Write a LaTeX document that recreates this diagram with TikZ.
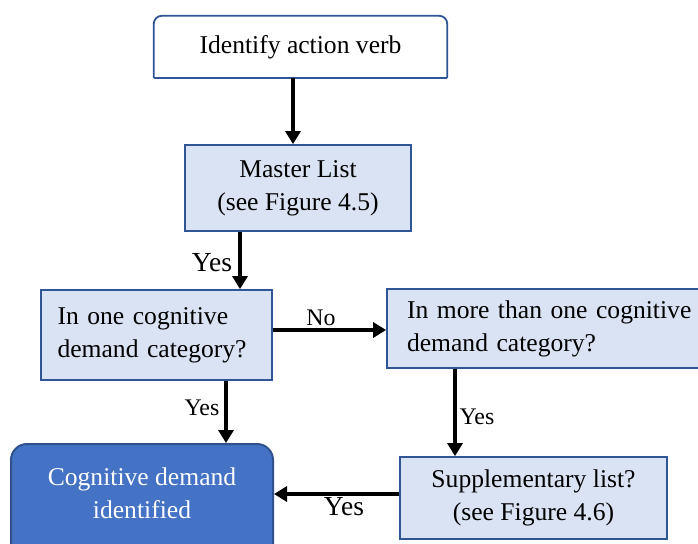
\documentclass[tikz,border=0pt]{standalone}
\usepackage{fontspec}
\setmainfont{Liberation Serif}
\usetikzlibrary{arrows.meta}
\definecolor{boxline}{HTML}{2F5597}
\definecolor{lightfill}{HTML}{DAE3F3}
\definecolor{darkfill}{HTML}{4472C4}
\definecolor{darkline}{HTML}{2F528F}
\hyphenpenalty=10000
\exhyphenpenalty=10000
\tikzset{
  mainfont/.style={font=\fontsize{25.6}{33}\selectfont},
  bigfont/.style={font=\fontsize{27.5}{33}\selectfont},
  smallfont/.style={font=\fontsize{23.8}{28}\selectfont},
  stepbox/.style={draw=boxline, line width=1.8pt, fill=lightfill, mainfont,
    inner sep=0pt, align=center},
  arr/.style={line width=3.6pt, -{Triangle[length=13pt,width=15pt]}},
  lbl/.style={inner sep=0pt},
}
\begin{document}
\begin{tikzpicture}[x=1pt,y=-1pt]
\useasboundingbox (0,0) rectangle (698,543);
\clip (0,0) rectangle (698,543);

% start step: rounded top corners, square bottom corners
\node[fill=white, inner sep=0pt, minimum width=293pt, minimum height=62pt, mainfont]
  (top) at (300.5,47) {Identify action verb};
\draw[boxline, line width=1.8pt, rounded corners=8pt]
  (top.south west) -- (top.north west) -- (top.north east) -- (top.south east);
\draw[boxline, line width=1.8pt] (top.south west) -- (top.south east);

\node[stepbox, minimum width=226pt, minimum height=86pt]
  (master) at (298,188) {Master List\\(see Figure 4.5)};

\node[stepbox, minimum width=231pt, minimum height=90pt, align=left,
  text width=198pt, inner xsep=16.5pt]
  (inone) at (156.5,335) {In one cognitive\\demand category?};

\node[stepbox, minimum width=350pt, minimum height=79pt, align=left,
  text width=310pt, inner xsep=20pt]
  (inmore) at (562,328.5) {In more than one cognitive\\demand category?};

\node[draw=darkline, line width=2pt, fill=darkfill, rounded corners=16pt,
  minimum width=262pt, minimum height=116pt, inner sep=0pt]
  (cogbox) at (142,502) {};
\node[mainfont, text=white, align=center, inner sep=0pt]
  (cog) at (142,493) {Cognitive demand\\identified};

\node[stepbox, minimum width=267pt, minimum height=82pt]
  (supp) at (533.5,498) {Supplementary list?\\(see Figure 4.6)};

% connectors
\draw[arr] ([xshift=-7.5pt]top.south) -- ([xshift=-7.5pt]top.south |- master.north);
\draw[arr] ([xshift=-58pt]master.south) -- ([xshift=-58pt]master.south |- inone.north);
\draw[arr] ([yshift=5pt]inone.east) -- ([yshift=5pt]inone.east -| inmore.west);
\draw[arr] ([xshift=69.5pt]inone.south) -- ([xshift=69.5pt]inone.south |- cogbox.north);
\draw[arr] ([xshift=-78.5pt]supp.north |- inmore.south) -- ([xshift=-78.5pt]supp.north);
\draw[arr] ([yshift=4pt]supp.west) -- ([yshift=4pt]supp.west -| cogbox.east);

% connector labels
\node[lbl, bigfont] (yes1) at (212,263) {Yes};
\node[lbl, smallfont] (no1) at (321,318) {No};
\node[lbl, smallfont] (yes2) at (202,408) {Yes};
\node[lbl, smallfont] (yes3) at (477,417) {Yes};
\node[lbl, bigfont] (yes4) at (344,507) {Yes};
\end{tikzpicture}
\end{document}
